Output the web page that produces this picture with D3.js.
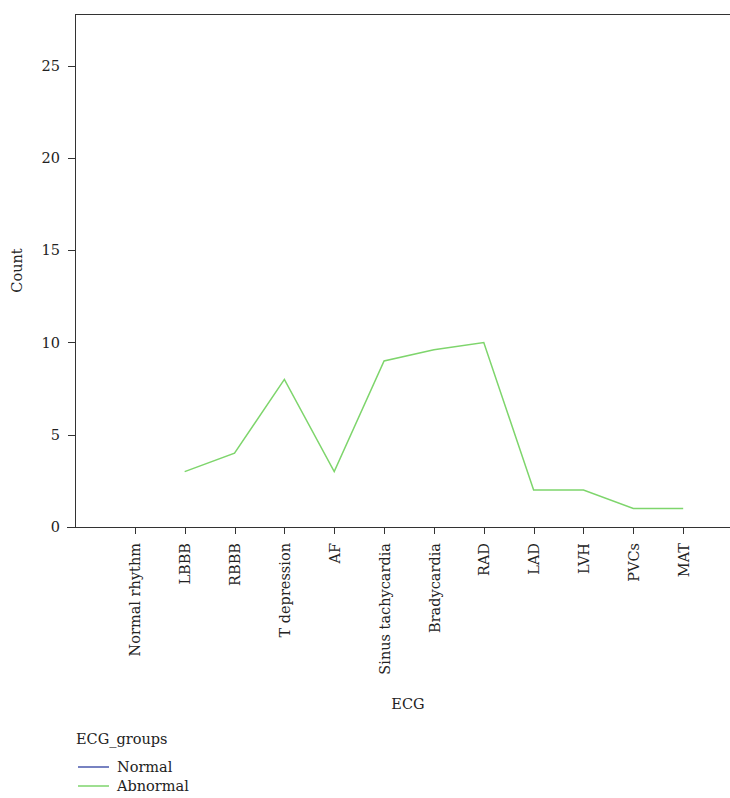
<!DOCTYPE html>
<meta charset='utf-8'>
<style>
    body {
        margin: 0;
        background: #fff;
    }
    svg text {
        font-family: 'DejaVu Serif', serif;
        font-size: 14.5px;
        fill: #222;
    }
    .axis path,
    .axis line {
        fill: none;
        stroke: #333;
        shape-rendering: crispEdges;
    }
    .line {
        fill: none;
        stroke-width: 1.5;
    }
</style>
<body>
    <script src='https://cdn.jsdelivr.net/npm/d3@7'></script>
    <script>
        // categories on the x axis
        const categories = [ 'Normal rhythm', 'LBBB', 'RBBB', 'T depression', 'AF',
            'Sinus tachycardia', 'Bradycardia', 'RAD', 'LAD', 'LVH', 'PVCs', 'MAT' ];

        // counts per group (null = no value)
        const normalCounts = [ 26.5, null, null, null, null, null, null, null, null, null, null, null ];
        const abnormalCounts = [ null, 3, 4, 8, 3, 9, 9.6, 10, 2, 2, 1, 1 ];

        const groups = [ 'Normal', 'Abnormal' ];
        const groupColors = { 'Normal': '#4a58ac', 'Abnormal': '#7ed56c' };
        const yTicks = [ 0, 5, 10, 15, 20, 25 ];
        const yMax = 27.8;

        let margin = { top: 14, right: -13, bottom: 271, left: 75 },
            width = 730 - margin.left - margin.right,
            height = 798 - margin.top - margin.bottom;

        let svg = d3.select( 'body' ).append( 'svg' )
            .attr( 'width', 730 )
            .attr( 'height', 798 );

        let g = svg.append( 'g' )
            .attr( 'transform', `translate( ${margin.left}, ${margin.top} )` );

        let xScale = d3.scalePoint()
            .domain( categories )
            .range( [ 0, width ] )
            .padding( 1.2 );

        let yScale = d3.scaleLinear()
            .domain( [ 0, yMax ] )
            .range( [ height, 0 ] );

        // frame top
        g.append( 'line' )
            .attr( 'x1', 0 ).attr( 'x2', width )
            .attr( 'y1', 0.5 ).attr( 'y2', 0.5 )
            .attr( 'stroke', '#333' );

        // Axes
        g.append( 'g' )
            .attr( 'class', 'y axis' )
            .call( d3.axisLeft( yScale ).tickValues( yTicks ).tickSize( 7 ).tickPadding( 8 ).tickSizeOuter( 0 ) )
            .call( a => a.select( '.domain' ).attr( 'd', `M0.5,${height}V0` ) );

        let xAxis = g.append( 'g' )
            .attr( 'class', 'x axis' )
            .attr( 'transform', `translate( 0, ${height} )` )
            .call( d3.axisBottom( xScale ).tickSize( 7 ).tickSizeOuter( 0 ) );

        xAxis.select( '.domain' ).attr( 'd', `M-8,0.5H${width}` );

        xAxis.selectAll( 'text' )
            .attr( 'transform', 'rotate(-90)' )
            .attr( 'x', -16 )
            .attr( 'y', 0 )
            .attr( 'dy', '0.35em' )
            .style( 'text-anchor', 'end' );

        svg.selectAll( '.axis' ).attr( 'font-family', null ).attr( 'font-size', null );

        // Axis titles
        svg.append( 'text' )
            .attr( 'transform', `translate( 22, ${margin.top + height / 2} ) rotate(-90)` )
            .style( 'text-anchor', 'middle' )
            .text( 'Count' );

        svg.append( 'text' )
            .attr( 'x', 408 )
            .attr( 'y', 709 )
            .style( 'text-anchor', 'middle' )
            .text( 'ECG' );

        // Lines
        const series = [ normalCounts, abnormalCounts ];
        let line = d3.line()
            .defined( d => d.value !== null )
            .x( d => xScale( d.cat ) )
            .y( d => yScale( d.value ) );

        groups.forEach( ( name, i ) => {
            let pts = categories.map( ( c, j ) => ( { cat: c, value: series[ i ][ j ] } ) );
            g.append( 'path' )
                .datum( pts )
                .attr( 'class', 'line' )
                .attr( 'stroke', groupColors[ name ] )
                .attr( 'd', line );
        } );

        // Legend
        let legend = svg.append( 'g' )
            .attr( 'transform', 'translate( 76, 744 )' );

        legend.append( 'text' )
            .attr( 'x', 0 )
            .attr( 'y', 0 )
            .text( 'ECG_groups' );

        let items = legend.selectAll( '.legend' )
            .data( groups )
            .enter().append( 'g' )
                .attr( 'class', 'legend' )
                .attr( 'transform', ( d, i ) => `translate( 0, ${23 + i * 19} )` );

        items.append( 'line' )
            .attr( 'x1', 2 ).attr( 'x2', 33 )
            .attr( 'y1', 0 ).attr( 'y2', 0 )
            .attr( 'stroke', d => groupColors[ d ] )
            .attr( 'stroke-width', 1.5 );

        items.append( 'text' )
            .attr( 'x', 41 )
            .attr( 'y', 0 )
            .attr( 'dy', '.35em' )
            .text( d => d );
    </script>
</body>
